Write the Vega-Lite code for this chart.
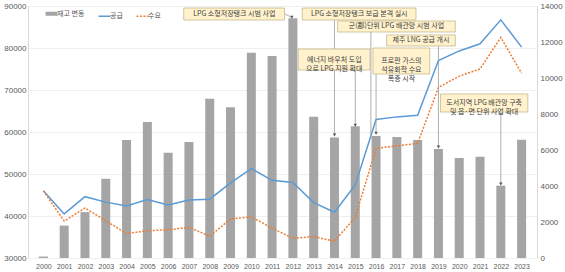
{
  "$schema": "https://vega.github.io/schema/vega-lite/v6.json",
  "width": 509,
  "height": 252,
  "autosize": {"type": "none"},
  "padding": {"left": 28, "top": 6, "right": 28, "bottom": 14},
  "config": {
    "view": {"stroke": "#d9d9d9"},
    "font": "Liberation Sans",
    "axis": {"labelColor": "#595959", "ticks": false, "domain": false, "title": null, "labelFont": "Liberation Sans"},
    "axisX": {"labelOverlap": false, "labelFontSize": 7, "tickCount": 24, "labelSeparation": 0, "labelBound": false}
  },
  "datasets": {
    "main": [
      {"year": 2000, "stock": 80, "supply": 46000, "demand": 46000},
      {"year": 2001, "stock": 1800, "supply": 40500, "demand": 38800},
      {"year": 2002, "stock": 2550, "supply": 44600, "demand": 41900},
      {"year": 2003, "stock": 4400, "supply": 43300, "demand": 38900},
      {"year": 2004, "stock": 6550, "supply": 42400, "demand": 35800},
      {"year": 2005, "stock": 7550, "supply": 43900, "demand": 36500},
      {"year": 2006, "stock": 5850, "supply": 42600, "demand": 36700},
      {"year": 2007, "stock": 6450, "supply": 43800, "demand": 37300},
      {"year": 2008, "stock": 8850, "supply": 44000, "demand": 35200},
      {"year": 2009, "stock": 8370, "supply": 47900, "demand": 39300},
      {"year": 2010, "stock": 11400, "supply": 51300, "demand": 39800},
      {"year": 2011, "stock": 11220, "supply": 48500, "demand": 37100},
      {"year": 2012, "stock": 13320, "supply": 48000, "demand": 34700},
      {"year": 2013, "stock": 7850, "supply": 43200, "demand": 35100},
      {"year": 2014, "stock": 6700, "supply": 40900, "demand": 34000},
      {"year": 2015, "stock": 7320, "supply": 47400, "demand": 39700},
      {"year": 2016, "stock": 6780, "supply": 63000, "demand": 56100},
      {"year": 2017, "stock": 6720, "supply": 63600, "demand": 56700},
      {"year": 2018, "stock": 6560, "supply": 64000, "demand": 57300},
      {"year": 2019, "stock": 6060, "supply": 77000, "demand": 70600},
      {"year": 2020, "stock": 5560, "supply": 79300, "demand": 73300},
      {"year": 2021, "stock": 5630, "supply": 81000, "demand": 75000},
      {"year": 2022, "stock": 4020, "supply": 86700, "demand": 82500},
      {"year": 2023, "stock": 6570, "supply": 80200, "demand": 74000}
    ],
    "boxes": [
      {"label": "LPG 소형저장탱크 시범 사업", "x1": 2006.75, "x2": 2011.6, "y1": 89520, "y2": 86670, "tx": 2009.18, "ty": 88100},
      {"label": "LPG 소형저장탱크 보급 본격 실시", "x1": 2012.45, "x2": 2017.92, "y1": 89520, "y2": 86670, "tx": 2015.19, "ty": 88100},
      {"label": "군(郡)단위 LPG 배관망 시범 사업", "x1": 2014.15, "x2": 2019.81, "y1": 86430, "y2": 83810, "tx": 2016.98, "ty": 85120},
      {"label": "에너지 바우처 도입\n으로 LPG 지원 확대", "x1": 2012.26, "x2": 2015.71, "y1": 79760, "y2": 74760, "tx": 2013.99, "ty": 77260},
      {"label": "프로판 가스의\n석유화학 수요\n폭증 시작", "x1": 2015.85, "x2": 2018.58, "y1": 80000, "y2": 73810, "tx": 2017.22, "ty": 76900},
      {"label": "제주 LNG 공급 개시", "x1": 2016.51, "x2": 2019.81, "y1": 83100, "y2": 80480, "tx": 2018.16, "ty": 81790},
      {"label": "도서지역 LPG 배관망 구축\n및 읍·면 단위 사업 확대", "x1": 2019.1, "x2": 2023.3, "y1": 69050, "y2": 64760, "tx": 2021.2, "ty": 66900}
    ],
    "arrows": [
      {"x1": 2011.6, "y1": 88100, "x2": 2011.95, "y2": 87300, "head": 1},
      {"x1": 2014, "y1": 86670, "x2": 2014, "y2": 59300, "head": 1},
      {"x1": 2015.75, "y1": 83810, "x2": 2015.75, "y2": 59100, "head": 0},
      {"x1": 2015, "y1": 74760, "x2": 2015, "y2": 61600, "head": 1},
      {"x1": 2016, "y1": 73810, "x2": 2016, "y2": 59700, "head": 1},
      {"x1": 2019, "y1": 80480, "x2": 2019, "y2": 56400, "head": 1},
      {"x1": 2022, "y1": 64760, "x2": 2022, "y2": 47600, "head": 1}
    ]
  },
  "layer": [
    {
      "data": {"name": "main"},
      "mark": {"type": "bar", "size": 9},
      "encoding": {
        "x": {"field": "year", "type": "quantitative", "scale": {"domain": [1999.5, 2023.5], "nice": false, "zero": false},
              "axis": {"values": [2000,2001,2002,2003,2004,2005,2006,2007,2008,2009,2010,2011,2012,2013,2014,2015,2016,2017,2018,2019,2020,2021,2022,2023], "format": "d", "grid": false, "labelFontSize": 7, "labelPadding": 4, "labelOverlap": false}},
        "y": {"field": "stock", "type": "quantitative", "scale": {"domain": [0, 14000], "nice": false},
              "axis": {"orient": "right", "values": [0,2000,4000,6000,8000,10000,12000,14000], "format": "d", "grid": false, "labelFontSize": 8, "labelPadding": 3}},
        "fill": {"datum": "재고 변동", "type": "nominal",
          "scale": {"domain": ["재고 변동"], "range": ["#a5a5a5"]},
          "legend": null}
      }
    },
    {
      "layer": [
        {
          "data": {"name": "main"},
          "mark": {"type": "line", "strokeWidth": 1.5},
          "encoding": {
            "x": {"field": "year", "type": "quantitative"},
            "y": {"field": "supply", "type": "quantitative", "scale": {"domain": [30000, 90000], "nice": false, "zero": false},
                  "axis": {"values": [30000,40000,50000,60000,70000,80000,90000], "format": "d", "grid": true, "gridColor": "#efefef", "labelFontSize": 8, "labelPadding": 2}},
            "color": {"datum": "공급", "type": "nominal",
              "scale": {"domain": ["재고 변동", "공급", "수요"], "range": ["#a5a5a5", "#5b9bd5", "#ed7d31"]},
              "legend": {"orient": "none", "legendX": 20, "legendY": 4, "direction": "horizontal", "title": null,
                "symbolType": "stroke", "symbolSize": 144, "symbolStrokeWidth": 1.5,
                "labelFont": "Noto Sans CJK KR", "labelFontSize": 7, "labelColor": "#595959", "columnSpacing": 12, "labelOffset": 2,
                "encode": {"symbols": {"update": {
                  "strokeWidth": {"signal": "datum.value === '재고 변동' ? 4 : 1.5"},
                  "strokeDash": {"signal": "datum.value === '수요' ? [2, 1.5] : [1, 0]"}
                }}}}}
          }
        },
        {
          "data": {"name": "main"},
          "mark": {"type": "line", "strokeWidth": 1.5, "strokeDash": [2, 1.5]},
          "encoding": {
            "x": {"field": "year", "type": "quantitative"},
            "y": {"field": "demand", "type": "quantitative"},
            "color": {"datum": "수요", "type": "nominal"}
          }
        },
        {
          "data": {"name": "arrows"},
          "mark": {"type": "rule", "color": "#9a9a9a", "strokeWidth": 0.8},
          "encoding": {
            "x": {"field": "x1", "type": "quantitative"},
            "x2": {"field": "x2"},
            "y": {"field": "y1", "type": "quantitative"},
            "y2": {"field": "y2"}
          }
        },
        {
          "data": {"name": "arrows"},
          "transform": [{"filter": "datum.head == 1"}],
          "mark": {"type": "point", "shape": "triangle-down", "filled": true, "size": 12, "color": "#595959", "opacity": 1},
          "encoding": {
            "x": {"field": "x2", "type": "quantitative"},
            "y": {"field": "y2", "type": "quantitative"}
          }
        },
        {
          "data": {"name": "boxes"},
          "mark": {"type": "rect", "fill": "#fff2cc", "stroke": "#c8b88a", "strokeWidth": 0.8},
          "encoding": {
            "x": {"field": "x1", "type": "quantitative"},
            "x2": {"field": "x2"},
            "y": {"field": "y1", "type": "quantitative"},
            "y2": {"field": "y2"}
          }
        },
        {
          "data": {"name": "boxes"},
          "mark": {"type": "text", "font": "Noto Sans CJK KR", "fontSize": 7, "color": "#404040", "align": "center", "baseline": "middle", "lineBreak": "\n", "lineHeight": 9},
          "encoding": {
            "x": {"field": "tx", "type": "quantitative"},
            "y": {"field": "ty", "type": "quantitative"},
            "text": {"field": "label"}
          }
        }
      ]
    }
  ],
  "resolve": {"scale": {"y": "independent"}}
}
